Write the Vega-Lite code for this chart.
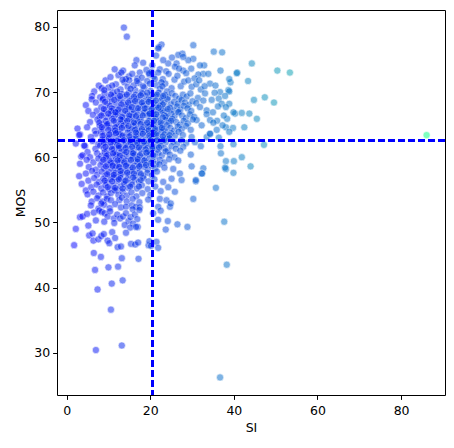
{
  "$schema": "https://vega.github.io/schema/vega-lite/v6.json",
  "width": 388,
  "height": 385,
  "autosize": {"type": "none"},
  "padding": {"left": 57, "top": 10, "right": 9, "bottom": 53},
  "background": "white",
  "config": {
    "view": {"stroke": "black", "strokeWidth": 1},
    "axis": {
      "grid": false, "domain": false, "tickColor": "black", "tickSize": 4.4, "tickWidth": 1,
      "labelFont": "DejaVu Sans", "labelFontSize": 12.5, "labelColor": "black", "labelPadding": 3,
      "titleFont": "DejaVu Sans", "titleFontSize": 12.5, "titleFontWeight": "normal", "titleColor": "black"
    }
  },
  "datasets": {
    "pts": [
      {"SI":13.7,"MOS":79.9},{"SI":14.4,"MOS":78.5},{"SI":13.5,"MOS":73.3},{"SI":16.7,"MOS":74.9},{"SI":16.3,"MOS":74.1},{"SI":17.5,"MOS":73.0},{"SI":14.9,"MOS":72.4},{"SI":16.9,"MOS":72.1},
      {"SI":22.7,"MOS":77.3},{"SI":22.1,"MOS":76.9},{"SI":21.9,"MOS":76.7},{"SI":30.3,"MOS":77.2},{"SI":35.2,"MOS":76.2},{"SI":37.2,"MOS":76.1},{"SI":44.3,"MOS":74.4},{"SI":50.4,"MOS":73.3},{"SI":53.4,"MOS":73.0},{"SI":40.8,"MOS":73.0},{"SI":36.8,"MOS":73.3},{"SI":32.9,"MOS":74.1},{"SI":31.9,"MOS":74.1},{"SI":30.3,"MOS":75.1},{"SI":29.1,"MOS":74.9},{"SI":27.7,"MOS":75.9},{"SI":26.7,"MOS":75.7},{"SI":27.9,"MOS":75.4},{"SI":26.3,"MOS":74.4},{"SI":25.9,"MOS":73.9},{"SI":24.3,"MOS":74.4},{"SI":23.1,"MOS":74.9},{"SI":22.3,"MOS":73.5},{"SI":27.9,"MOS":73.3},{"SI":32.7,"MOS":72.8},{"SI":31.5,"MOS":72.7},{"SI":33.9,"MOS":72.8},{"SI":20.5,"MOS":74.1},{"SI":19.1,"MOS":73.4},{"SI":21.4,"MOS":75.6},{"SI":25.2,"MOS":75.3},{"SI":23.8,"MOS":73.2},{"SI":29.8,"MOS":73.6},{"SI":18.3,"MOS":74.5},{"SI":19.8,"MOS":72.7},
      {"SI":7.7,"MOS":71.0},{"SI":6.6,"MOS":70.1},{"SI":8.4,"MOS":70.6},{"SI":9.3,"MOS":71.8},{"SI":10.5,"MOS":72.3},{"SI":11.0,"MOS":70.0},{"SI":11.8,"MOS":71.2},{"SI":12.4,"MOS":72.6},{"SI":12.9,"MOS":70.4},{"SI":13.8,"MOS":71.5},{"SI":14.6,"MOS":70.8},{"SI":15.0,"MOS":71.8},{"SI":15.7,"MOS":72.8},{"SI":16.4,"MOS":70.3},{"SI":17.2,"MOS":71.4},{"SI":18.0,"MOS":72.2},{"SI":18.6,"MOS":70.7},{"SI":19.3,"MOS":71.7},{"SI":20.1,"MOS":70.2},{"SI":20.8,"MOS":72.4},{"SI":21.5,"MOS":71.1},{"SI":22.3,"MOS":70.5},{"SI":23.0,"MOS":72.0},{"SI":23.6,"MOS":71.3},{"SI":24.4,"MOS":72.8},{"SI":25.1,"MOS":70.6},{"SI":25.8,"MOS":71.9},{"SI":26.5,"MOS":72.5},{"SI":27.3,"MOS":70.9},{"SI":28.1,"MOS":71.6},{"SI":29.1,"MOS":71.8},{"SI":29.9,"MOS":70.8},{"SI":30.6,"MOS":72.1},{"SI":32.1,"MOS":70.4},{"SI":34.3,"MOS":71.3},{"SI":39.2,"MOS":71.5},{"SI":43.4,"MOS":71.7},{"SI":38.9,"MOS":72.0},{"SI":36.7,"MOS":70.0},{"SI":38.7,"MOS":70.3},{"SI":13.1,"MOS":73.0},{"SI":11.5,"MOS":73.5},{"SI":20.3,"MOS":73.1},{"SI":17.9,"MOS":70.0},{"SI":24.0,"MOS":70.1},{"SI":21.9,"MOS":73.0},{"SI":26.9,"MOS":73.6},{"SI":14.2,"MOS":72.0},{"SI":22.7,"MOS":71.5},{"SI":19.7,"MOS":72.9},{"SI":16.0,"MOS":71.0},{"SI":10.0,"MOS":70.7},{"SI":28.6,"MOS":72.9},{"SI":31.0,"MOS":71.2},{"SI":33.0,"MOS":70.9},{"SI":35.6,"MOS":71.0},{"SI":31.7,"MOS":71.8},
      {"SI":6.1,"MOS":69.4},{"SI":8.0,"MOS":69.2},{"SI":10.2,"MOS":69.2},{"SI":9.1,"MOS":69.8},{"SI":11.4,"MOS":69.5},{"SI":12.3,"MOS":69.1},{"SI":13.2,"MOS":69.7},{"SI":14.0,"MOS":69.3},{"SI":14.9,"MOS":69.9},{"SI":15.6,"MOS":69.0},{"SI":16.5,"MOS":69.6},{"SI":17.3,"MOS":69.2},{"SI":18.1,"MOS":69.8},{"SI":18.9,"MOS":69.4},{"SI":19.6,"MOS":69.0},{"SI":20.4,"MOS":69.7},{"SI":21.2,"MOS":69.3},{"SI":22.0,"MOS":69.9},{"SI":22.8,"MOS":69.1},{"SI":23.5,"MOS":69.6},{"SI":24.3,"MOS":69.2},{"SI":25.2,"MOS":69.8},{"SI":26.0,"MOS":69.4},{"SI":26.9,"MOS":69.0},{"SI":27.8,"MOS":69.6},{"SI":28.7,"MOS":69.3},{"SI":29.6,"MOS":69.8},{"SI":31.4,"MOS":69.1},{"SI":33.1,"MOS":69.8},{"SI":36.4,"MOS":69.0},{"SI":38.9,"MOS":70.1},
      {"SI":4.6,"MOS":68.0},{"SI":6.0,"MOS":68.9},{"SI":7.0,"MOS":68.4},{"SI":8.6,"MOS":68.8},{"SI":9.7,"MOS":68.2},{"SI":10.8,"MOS":68.6},{"SI":11.9,"MOS":68.1},{"SI":12.7,"MOS":68.9},{"SI":13.5,"MOS":68.4},{"SI":14.3,"MOS":68.0},{"SI":15.1,"MOS":68.7},{"SI":15.9,"MOS":68.3},{"SI":16.8,"MOS":68.9},{"SI":17.6,"MOS":68.1},{"SI":18.4,"MOS":68.6},{"SI":19.2,"MOS":68.2},{"SI":20.0,"MOS":68.8},{"SI":20.9,"MOS":68.4},{"SI":21.7,"MOS":68.0},{"SI":22.5,"MOS":68.7},{"SI":23.3,"MOS":68.3},{"SI":24.1,"MOS":68.9},{"SI":24.9,"MOS":68.1},{"SI":25.7,"MOS":68.5},{"SI":26.6,"MOS":68.2},{"SI":27.5,"MOS":68.8},{"SI":28.3,"MOS":68.4},{"SI":29.2,"MOS":68.0},{"SI":30.1,"MOS":68.6},{"SI":31.0,"MOS":68.3},{"SI":32.7,"MOS":68.7},{"SI":34.7,"MOS":68.8},{"SI":37.1,"MOS":68.2},{"SI":38.9,"MOS":68.2},{"SI":44.8,"MOS":68.8},{"SI":49.6,"MOS":68.4},{"SI":47.4,"MOS":69.2},
      {"SI":5.2,"MOS":67.1},{"SI":7.2,"MOS":67.1},{"SI":8.3,"MOS":67.7},{"SI":9.4,"MOS":67.3},{"SI":10.3,"MOS":67.9},{"SI":11.2,"MOS":67.4},{"SI":12.0,"MOS":67.0},{"SI":12.8,"MOS":67.6},{"SI":13.6,"MOS":67.2},{"SI":14.4,"MOS":67.8},{"SI":15.2,"MOS":67.3},{"SI":16.0,"MOS":67.0},{"SI":16.7,"MOS":67.6},{"SI":17.5,"MOS":67.2},{"SI":18.3,"MOS":67.9},{"SI":19.1,"MOS":67.5},{"SI":19.9,"MOS":67.1},{"SI":20.7,"MOS":67.7},{"SI":21.5,"MOS":67.3},{"SI":22.3,"MOS":67.9},{"SI":23.1,"MOS":67.4},{"SI":23.9,"MOS":67.0},{"SI":24.7,"MOS":67.6},{"SI":25.5,"MOS":67.2},{"SI":26.4,"MOS":67.8},{"SI":27.2,"MOS":67.3},{"SI":28.0,"MOS":67.9},{"SI":28.9,"MOS":67.5},{"SI":29.8,"MOS":67.1},{"SI":31.9,"MOS":67.7},{"SI":33.5,"MOS":67.2},{"SI":38.1,"MOS":67.7},{"SI":10.8,"MOS":67.5},{"SI":14.9,"MOS":67.6},{"SI":18.8,"MOS":67.0},{"SI":22.9,"MOS":67.2},{"SI":26.9,"MOS":67.0},
      {"SI":6.3,"MOS":66.5},{"SI":7.9,"MOS":66.2},{"SI":8.8,"MOS":66.8},{"SI":9.6,"MOS":66.1},{"SI":10.5,"MOS":66.6},{"SI":11.3,"MOS":66.2},{"SI":12.1,"MOS":66.9},{"SI":12.9,"MOS":66.4},{"SI":13.7,"MOS":66.0},{"SI":14.5,"MOS":66.7},{"SI":15.3,"MOS":66.3},{"SI":16.1,"MOS":66.9},{"SI":16.9,"MOS":66.5},{"SI":17.7,"MOS":66.1},{"SI":18.5,"MOS":66.8},{"SI":19.3,"MOS":66.4},{"SI":20.1,"MOS":66.0},{"SI":20.9,"MOS":66.6},{"SI":21.7,"MOS":66.2},{"SI":22.5,"MOS":66.9},{"SI":23.3,"MOS":66.5},{"SI":24.1,"MOS":66.1},{"SI":25.0,"MOS":66.7},{"SI":25.8,"MOS":66.3},{"SI":26.7,"MOS":66.9},{"SI":27.6,"MOS":66.4},{"SI":28.5,"MOS":66.0},{"SI":29.5,"MOS":66.6},{"SI":30.5,"MOS":66.2},{"SI":31.1,"MOS":65.7},{"SI":33.5,"MOS":66.6},{"SI":40.3,"MOS":66.7},{"SI":43.7,"MOS":66.7},{"SI":41.9,"MOS":66.8},{"SI":39.9,"MOS":66.9},{"SI":45.5,"MOS":65.9},{"SI":38.4,"MOS":65.9},{"SI":36.0,"MOS":65.6},{"SI":34.3,"MOS":65.7},{"SI":11.7,"MOS":66.5},{"SI":15.7,"MOS":66.2},{"SI":19.7,"MOS":66.6},{"SI":23.7,"MOS":66.3},
      {"SI":5.6,"MOS":65.4},{"SI":7.4,"MOS":65.8},{"SI":8.5,"MOS":65.1},{"SI":9.3,"MOS":65.6},{"SI":10.1,"MOS":65.2},{"SI":10.9,"MOS":65.9},{"SI":11.7,"MOS":65.4},{"SI":12.5,"MOS":65.0},{"SI":13.3,"MOS":65.7},{"SI":14.1,"MOS":65.3},{"SI":14.9,"MOS":65.9},{"SI":15.7,"MOS":65.5},{"SI":16.5,"MOS":65.1},{"SI":17.3,"MOS":65.8},{"SI":18.1,"MOS":65.4},{"SI":18.9,"MOS":65.0},{"SI":19.7,"MOS":65.6},{"SI":20.5,"MOS":65.2},{"SI":21.3,"MOS":65.9},{"SI":22.1,"MOS":65.5},{"SI":22.9,"MOS":65.1},{"SI":23.7,"MOS":65.7},{"SI":24.5,"MOS":65.3},{"SI":25.3,"MOS":65.9},{"SI":26.2,"MOS":65.4},{"SI":27.1,"MOS":65.0},{"SI":28.0,"MOS":65.6},{"SI":29.0,"MOS":65.2},{"SI":30.2,"MOS":65.8},{"SI":32.3,"MOS":64.9},{"SI":35.1,"MOS":65.3},{"SI":13.0,"MOS":65.2},{"SI":17.0,"MOS":65.5},{"SI":21.0,"MOS":65.0},{"SI":25.0,"MOS":65.6},
      {"SI":2.6,"MOS":64.4},{"SI":4.9,"MOS":64.6},{"SI":6.8,"MOS":64.1},{"SI":7.9,"MOS":64.8},{"SI":8.8,"MOS":64.3},{"SI":9.6,"MOS":64.9},{"SI":10.4,"MOS":64.5},{"SI":11.2,"MOS":64.1},{"SI":12.0,"MOS":64.7},{"SI":12.8,"MOS":64.3},{"SI":13.6,"MOS":64.9},{"SI":14.4,"MOS":64.5},{"SI":15.2,"MOS":64.1},{"SI":16.0,"MOS":64.8},{"SI":16.8,"MOS":64.4},{"SI":17.6,"MOS":64.0},{"SI":18.4,"MOS":64.6},{"SI":19.2,"MOS":64.2},{"SI":20.0,"MOS":64.9},{"SI":20.8,"MOS":64.5},{"SI":21.6,"MOS":64.1},{"SI":22.4,"MOS":64.7},{"SI":23.2,"MOS":64.3},{"SI":24.0,"MOS":64.9},{"SI":24.8,"MOS":64.5},{"SI":25.7,"MOS":64.1},{"SI":26.6,"MOS":64.7},{"SI":27.5,"MOS":64.3},{"SI":28.6,"MOS":64.8},{"SI":29.7,"MOS":64.2},{"SI":35.9,"MOS":64.2},{"SI":38.1,"MOS":64.6},{"SI":42.5,"MOS":64.6},{"SI":39.8,"MOS":64.5},{"SI":38.9,"MOS":63.9},{"SI":11.6,"MOS":64.6},{"SI":15.6,"MOS":64.3},{"SI":19.6,"MOS":64.7},{"SI":23.6,"MOS":64.0},
      {"SI":3.2,"MOS":63.5},{"SI":3.0,"MOS":63.4},{"SI":7.0,"MOS":63.6},{"SI":5.8,"MOS":63.1},{"SI":8.2,"MOS":63.9},{"SI":9.0,"MOS":63.4},{"SI":9.8,"MOS":63.0},{"SI":10.6,"MOS":63.7},{"SI":11.4,"MOS":63.3},{"SI":12.2,"MOS":63.9},{"SI":13.0,"MOS":63.5},{"SI":13.8,"MOS":63.1},{"SI":14.6,"MOS":63.8},{"SI":15.4,"MOS":63.4},{"SI":16.2,"MOS":63.0},{"SI":17.0,"MOS":63.6},{"SI":17.8,"MOS":63.2},{"SI":18.6,"MOS":63.9},{"SI":19.4,"MOS":63.5},{"SI":20.2,"MOS":63.1},{"SI":21.0,"MOS":63.7},{"SI":21.8,"MOS":63.3},{"SI":22.6,"MOS":63.9},{"SI":23.4,"MOS":63.5},{"SI":24.2,"MOS":63.1},{"SI":25.0,"MOS":63.7},{"SI":25.9,"MOS":63.3},{"SI":26.8,"MOS":63.9},{"SI":27.8,"MOS":63.4},{"SI":29.9,"MOS":63.1},{"SI":33.5,"MOS":63.1},{"SI":34.3,"MOS":63.6},{"SI":12.6,"MOS":63.6},{"SI":16.6,"MOS":63.3},{"SI":20.6,"MOS":63.8},{"SI":24.6,"MOS":63.4},
      {"SI":2.2,"MOS":62.1},{"SI":6.2,"MOS":62.5},{"SI":7.6,"MOS":62.0},{"SI":8.5,"MOS":62.7},{"SI":9.3,"MOS":62.3},{"SI":10.1,"MOS":62.9},{"SI":10.9,"MOS":62.5},{"SI":11.7,"MOS":62.1},{"SI":12.5,"MOS":62.8},{"SI":13.3,"MOS":62.4},{"SI":14.1,"MOS":62.0},{"SI":14.9,"MOS":62.6},{"SI":15.7,"MOS":62.2},{"SI":16.5,"MOS":62.9},{"SI":17.3,"MOS":62.5},{"SI":18.1,"MOS":62.1},{"SI":18.9,"MOS":62.7},{"SI":19.7,"MOS":62.3},{"SI":20.5,"MOS":62.9},{"SI":21.3,"MOS":62.5},{"SI":22.1,"MOS":62.1},{"SI":22.9,"MOS":62.7},{"SI":23.7,"MOS":62.3},{"SI":24.6,"MOS":62.9},{"SI":25.5,"MOS":62.4},{"SI":26.4,"MOS":62.0},{"SI":27.4,"MOS":62.6},{"SI":28.6,"MOS":62.2},{"SI":30.7,"MOS":62.3},{"SI":39.9,"MOS":62.0},{"SI":47.2,"MOS":61.9},{"SI":36.8,"MOS":61.7},{"SI":32.1,"MOS":61.7},{"SI":27.9,"MOS":61.6},{"SI":11.3,"MOS":62.4},{"SI":15.3,"MOS":62.6},{"SI":19.3,"MOS":62.0},{"SI":23.3,"MOS":62.6},
      {"SI":4.4,"MOS":61.7},{"SI":4.2,"MOS":61.8},{"SI":5.0,"MOS":60.8},{"SI":6.9,"MOS":61.3},{"SI":8.0,"MOS":61.8},{"SI":8.9,"MOS":61.4},{"SI":9.7,"MOS":61.0},{"SI":10.5,"MOS":61.6},{"SI":11.3,"MOS":61.2},{"SI":12.1,"MOS":61.9},{"SI":12.9,"MOS":61.5},{"SI":13.7,"MOS":61.1},{"SI":14.5,"MOS":61.7},{"SI":15.3,"MOS":61.3},{"SI":16.1,"MOS":61.0},{"SI":16.9,"MOS":61.6},{"SI":17.7,"MOS":61.2},{"SI":18.5,"MOS":61.8},{"SI":19.3,"MOS":61.4},{"SI":20.1,"MOS":61.0},{"SI":20.9,"MOS":61.6},{"SI":21.7,"MOS":61.2},{"SI":22.5,"MOS":61.8},{"SI":23.3,"MOS":61.4},{"SI":24.2,"MOS":61.0},{"SI":25.1,"MOS":61.7},{"SI":26.1,"MOS":61.3},{"SI":27.2,"MOS":61.0},{"SI":36.9,"MOS":60.6},{"SI":12.5,"MOS":61.4},{"SI":16.5,"MOS":61.9},{"SI":20.5,"MOS":61.3},
      {"SI":3.5,"MOS":60.1},{"SI":3.8,"MOS":60.3},{"SI":5.6,"MOS":60.0},{"SI":7.3,"MOS":60.6},{"SI":8.3,"MOS":60.2},{"SI":9.1,"MOS":60.8},{"SI":9.9,"MOS":60.4},{"SI":10.7,"MOS":60.0},{"SI":11.5,"MOS":60.7},{"SI":12.3,"MOS":60.3},{"SI":13.1,"MOS":60.9},{"SI":13.9,"MOS":60.5},{"SI":14.7,"MOS":60.1},{"SI":15.5,"MOS":60.8},{"SI":16.3,"MOS":60.4},{"SI":17.1,"MOS":60.0},{"SI":17.9,"MOS":60.6},{"SI":18.7,"MOS":60.2},{"SI":19.5,"MOS":60.9},{"SI":20.3,"MOS":60.5},{"SI":21.1,"MOS":60.1},{"SI":21.9,"MOS":60.7},{"SI":22.8,"MOS":60.3},{"SI":23.7,"MOS":60.9},{"SI":24.7,"MOS":60.4},{"SI":25.8,"MOS":60.0},{"SI":29.7,"MOS":60.4},{"SI":41.9,"MOS":60.0},{"SI":11.9,"MOS":60.4},{"SI":15.9,"MOS":60.2},{"SI":19.9,"MOS":60.6},
      {"SI":3.2,"MOS":59.0},{"SI":4.8,"MOS":59.6},{"SI":6.4,"MOS":59.2},{"SI":7.6,"MOS":59.8},{"SI":8.6,"MOS":59.3},{"SI":9.4,"MOS":59.9},{"SI":10.2,"MOS":59.5},{"SI":11.0,"MOS":59.1},{"SI":11.8,"MOS":59.7},{"SI":12.6,"MOS":59.3},{"SI":13.4,"MOS":59.9},{"SI":14.2,"MOS":59.5},{"SI":15.0,"MOS":59.1},{"SI":15.8,"MOS":59.8},{"SI":16.6,"MOS":59.4},{"SI":17.4,"MOS":59.0},{"SI":18.2,"MOS":59.6},{"SI":19.0,"MOS":59.2},{"SI":19.8,"MOS":59.8},{"SI":20.6,"MOS":59.4},{"SI":21.4,"MOS":59.0},{"SI":22.3,"MOS":59.6},{"SI":23.3,"MOS":59.2},{"SI":24.5,"MOS":59.7},{"SI":26.7,"MOS":59.5},{"SI":40.0,"MOS":59.4},{"SI":38.1,"MOS":59.4},{"SI":13.0,"MOS":59.6},{"SI":17.0,"MOS":59.3},
      {"SI":5.3,"MOS":58.5},{"SI":7.0,"MOS":58.1},{"SI":8.1,"MOS":58.8},{"SI":9.0,"MOS":58.3},{"SI":9.8,"MOS":58.9},{"SI":10.6,"MOS":58.4},{"SI":11.4,"MOS":58.0},{"SI":12.2,"MOS":58.7},{"SI":13.0,"MOS":58.3},{"SI":13.8,"MOS":58.9},{"SI":14.6,"MOS":58.5},{"SI":15.4,"MOS":58.1},{"SI":16.2,"MOS":58.7},{"SI":17.0,"MOS":58.3},{"SI":17.8,"MOS":58.9},{"SI":18.6,"MOS":58.5},{"SI":19.4,"MOS":58.1},{"SI":20.3,"MOS":58.7},{"SI":21.2,"MOS":58.3},{"SI":22.2,"MOS":58.9},{"SI":23.4,"MOS":58.4},{"SI":25.5,"MOS":58.2},{"SI":29.9,"MOS":58.6},{"SI":32.7,"MOS":58.3},{"SI":38.1,"MOS":58.2},{"SI":44.0,"MOS":58.6},{"SI":11.8,"MOS":58.6},
      {"SI":3.0,"MOS":57.1},{"SI":4.6,"MOS":57.5},{"SI":6.1,"MOS":57.9},{"SI":7.3,"MOS":57.3},{"SI":8.4,"MOS":57.8},{"SI":9.3,"MOS":57.2},{"SI":10.1,"MOS":57.7},{"SI":10.9,"MOS":57.1},{"SI":11.7,"MOS":57.6},{"SI":12.5,"MOS":57.0},{"SI":13.3,"MOS":57.5},{"SI":14.1,"MOS":57.9},{"SI":14.9,"MOS":57.3},{"SI":15.7,"MOS":57.8},{"SI":16.5,"MOS":57.2},{"SI":17.4,"MOS":57.7},{"SI":18.3,"MOS":57.1},{"SI":19.3,"MOS":57.6},{"SI":20.4,"MOS":57.2},{"SI":21.6,"MOS":57.8},{"SI":27.1,"MOS":57.5},{"SI":32.3,"MOS":57.5},{"SI":39.9,"MOS":57.6},{"SI":12.9,"MOS":57.4},
      {"SI":5.2,"MOS":56.4},{"SI":6.6,"MOS":56.8},{"SI":7.8,"MOS":56.2},{"SI":8.8,"MOS":56.7},{"SI":9.7,"MOS":56.1},{"SI":10.5,"MOS":56.6},{"SI":11.3,"MOS":56.9},{"SI":12.1,"MOS":56.3},{"SI":12.9,"MOS":56.8},{"SI":13.7,"MOS":56.2},{"SI":14.5,"MOS":56.7},{"SI":15.4,"MOS":56.1},{"SI":16.3,"MOS":56.6},{"SI":17.3,"MOS":56.2},{"SI":18.4,"MOS":56.8},{"SI":19.6,"MOS":56.3},{"SI":21.0,"MOS":56.6},{"SI":23.1,"MOS":56.2},{"SI":25.1,"MOS":56.7},{"SI":27.5,"MOS":56.5},{"SI":30.9,"MOS":56.3},
      {"SI":3.6,"MOS":55.9},{"SI":4.6,"MOS":54.9},{"SI":5.9,"MOS":55.4},{"SI":7.2,"MOS":55.8},{"SI":8.3,"MOS":55.2},{"SI":9.3,"MOS":55.7},{"SI":10.2,"MOS":55.1},{"SI":11.1,"MOS":55.6},{"SI":12.0,"MOS":55.0},{"SI":12.9,"MOS":55.5},{"SI":13.8,"MOS":55.9},{"SI":14.7,"MOS":55.3},{"SI":15.7,"MOS":55.8},{"SI":16.8,"MOS":55.2},{"SI":18.0,"MOS":55.7},{"SI":19.4,"MOS":55.1},{"SI":21.2,"MOS":55.5},{"SI":24.3,"MOS":55.4},{"SI":25.9,"MOS":54.7},{"SI":35.7,"MOS":55.3},
      {"SI":5.0,"MOS":54.3},{"SI":6.4,"MOS":54.7},{"SI":7.6,"MOS":54.1},{"SI":8.7,"MOS":54.6},{"SI":9.7,"MOS":54.0},{"SI":10.6,"MOS":54.5},{"SI":11.5,"MOS":54.9},{"SI":12.4,"MOS":54.2},{"SI":13.4,"MOS":54.7},{"SI":14.4,"MOS":54.1},{"SI":15.5,"MOS":54.6},{"SI":16.7,"MOS":54.0},{"SI":18.1,"MOS":54.5},{"SI":20.0,"MOS":54.2},{"SI":22.5,"MOS":54.8},
      {"SI":6.0,"MOS":53.2},{"SI":7.3,"MOS":53.7},{"SI":8.6,"MOS":53.2},{"SI":9.6,"MOS":53.6},{"SI":10.6,"MOS":53.4},{"SI":12.6,"MOS":53.4},{"SI":13.2,"MOS":53.8},{"SI":14.4,"MOS":53.2},{"SI":15.8,"MOS":53.6},{"SI":17.4,"MOS":53.1},{"SI":19.5,"MOS":53.5},{"SI":22.3,"MOS":53.6},{"SI":23.9,"MOS":53.4},{"SI":30.3,"MOS":53.6},
      {"SI":5.8,"MOS":52.6},{"SI":7.6,"MOS":52.1},{"SI":9.0,"MOS":52.7},{"SI":10.3,"MOS":52.2},{"SI":11.6,"MOS":52.8},{"SI":13.0,"MOS":52.3},{"SI":14.2,"MOS":52.4},{"SI":15.6,"MOS":52.6},{"SI":16.6,"MOS":52.4},{"SI":17.5,"MOS":52.3},{"SI":21.9,"MOS":52.4},{"SI":24.7,"MOS":52.4},{"SI":24.9,"MOS":52.9},{"SI":8.3,"MOS":52.9},
      {"SI":3.2,"MOS":50.8},{"SI":3.8,"MOS":50.9},{"SI":5.2,"MOS":49.5},{"SI":4.9,"MOS":51.3},{"SI":6.5,"MOS":51.5},{"SI":7.0,"MOS":50.3},{"SI":7.8,"MOS":51.8},{"SI":8.4,"MOS":51.6},{"SI":9.1,"MOS":51.4},{"SI":9.8,"MOS":50.9},{"SI":10.4,"MOS":51.7},{"SI":11.3,"MOS":50.6},{"SI":12.1,"MOS":51.2},{"SI":12.8,"MOS":50.6},{"SI":13.5,"MOS":50.9},{"SI":14.2,"MOS":51.4},{"SI":14.8,"MOS":50.2},{"SI":15.3,"MOS":50.8},{"SI":15.8,"MOS":52.0},{"SI":16.3,"MOS":51.2},{"SI":16.9,"MOS":50.5},{"SI":17.4,"MOS":51.9},{"SI":15.9,"MOS":49.8},{"SI":17.0,"MOS":49.3},{"SI":13.9,"MOS":49.6},{"SI":11.4,"MOS":49.9},{"SI":9.0,"MOS":50.1},{"SI":21.9,"MOS":50.4},{"SI":20.7,"MOS":51.4},{"SI":22.5,"MOS":51.8},{"SI":26.5,"MOS":49.7},{"SI":28.9,"MOS":49.3},{"SI":23.7,"MOS":48.9},{"SI":24.2,"MOS":50.2},{"SI":37.7,"MOS":50.1},
      {"SI":1.8,"MOS":46.5},{"SI":2.2,"MOS":49.0},{"SI":5.4,"MOS":48.0},{"SI":6.2,"MOS":48.3},{"SI":6.4,"MOS":47.2},{"SI":7.6,"MOS":47.4},{"SI":8.3,"MOS":47.9},{"SI":8.9,"MOS":48.2},{"SI":9.8,"MOS":47.2},{"SI":10.2,"MOS":46.8},{"SI":10.9,"MOS":48.5},{"SI":11.6,"MOS":47.6},{"SI":12.2,"MOS":46.2},{"SI":13.0,"MOS":46.3},{"SI":15.4,"MOS":46.7},{"SI":16.4,"MOS":46.6},{"SI":17.1,"MOS":46.9},{"SI":15.2,"MOS":49.2},{"SI":16.6,"MOS":49.3},{"SI":14.2,"MOS":48.4},{"SI":19.6,"MOS":46.5},{"SI":19.8,"MOS":47.1},{"SI":20.2,"MOS":46.4},{"SI":21.5,"MOS":47.0},{"SI":21.9,"MOS":46.1},
      {"SI":6.5,"MOS":45.3},{"SI":6.8,"MOS":42.7},{"SI":8.2,"MOS":44.7},{"SI":7.4,"MOS":39.7},{"SI":10.6,"MOS":36.6},{"SI":7.0,"MOS":30.4},{"SI":13.2,"MOS":31.1},{"SI":10.8,"MOS":40.6},{"SI":13.4,"MOS":41.1},{"SI":10.0,"MOS":43.1},{"SI":12.3,"MOS":43.2},{"SI":13.2,"MOS":44.5},{"SI":17.2,"MOS":44.4},{"SI":38.3,"MOS":43.5},{"SI":36.7,"MOS":26.2},{"SI":86.1,"MOS":63.4},
      {"SI":34.3,"MOS":63.6},{"SI":36.4,"MOS":63.0},{"SI":37.3,"MOS":64.9},{"SI":35.0,"MOS":66.9},{"SI":37.6,"MOS":66.4},{"SI":36.2,"MOS":67.8},{"SI":35.4,"MOS":69.9},{"SI":37.9,"MOS":69.4},{"SI":40.7,"MOS":72.9},{"SI":32.4,"MOS":57.5},{"SI":30.9,"MOS":56.5},{"SI":37.9,"MOS":58.4},
      {"SI":9.0,"MOS":70.3},{"SI":10.9,"MOS":71.0},{"SI":12.1,"MOS":70.1},{"SI":13.4,"MOS":71.9},{"SI":15.3,"MOS":70.5},{"SI":16.8,"MOS":71.7},{"SI":18.3,"MOS":70.9},{"SI":19.9,"MOS":71.3},{"SI":21.1,"MOS":72.0},{"SI":22.9,"MOS":70.9},
      {"SI":8.7,"MOS":69.0},{"SI":10.6,"MOS":69.6},{"SI":12.8,"MOS":69.4},{"SI":14.4,"MOS":69.6},{"SI":16.1,"MOS":69.3},{"SI":17.7,"MOS":69.5},{"SI":19.3,"MOS":69.9},{"SI":21.6,"MOS":69.6},{"SI":23.1,"MOS":69.4},
      {"SI":9.2,"MOS":68.5},{"SI":11.4,"MOS":68.8},{"SI":13.1,"MOS":68.1},{"SI":14.7,"MOS":68.4},{"SI":16.4,"MOS":68.6},{"SI":18.0,"MOS":68.4},{"SI":19.6,"MOS":68.5},{"SI":21.3,"MOS":68.7},{"SI":23.0,"MOS":68.1},
      {"SI":8.9,"MOS":67.4},{"SI":10.7,"MOS":67.1},{"SI":12.4,"MOS":67.3},{"SI":14.0,"MOS":67.1},{"SI":15.6,"MOS":67.7},{"SI":17.1,"MOS":67.5},{"SI":18.7,"MOS":67.5},{"SI":20.3,"MOS":67.4},{"SI":22.0,"MOS":67.6},{"SI":24.2,"MOS":67.4},
      {"SI":8.3,"MOS":66.4},{"SI":10.0,"MOS":66.7},{"SI":11.7,"MOS":66.9},{"SI":13.3,"MOS":66.2},{"SI":15.0,"MOS":66.4},{"SI":16.6,"MOS":66.3},{"SI":18.2,"MOS":66.4},{"SI":19.9,"MOS":66.7},{"SI":21.4,"MOS":66.6},{"SI":23.0,"MOS":66.1},
      {"SI":7.8,"MOS":65.3},{"SI":9.7,"MOS":65.1},{"SI":11.3,"MOS":65.6},{"SI":12.9,"MOS":65.8},{"SI":14.5,"MOS":65.6},{"SI":16.1,"MOS":65.3},{"SI":17.7,"MOS":65.1},{"SI":19.3,"MOS":65.3},{"SI":20.9,"MOS":65.6},{"SI":22.5,"MOS":65.3},
      {"SI":8.4,"MOS":64.6},{"SI":10.0,"MOS":64.2},{"SI":11.6,"MOS":64.1},{"SI":13.2,"MOS":64.5},{"SI":14.8,"MOS":64.8},{"SI":16.4,"MOS":64.2},{"SI":18.0,"MOS":64.3},{"SI":19.6,"MOS":64.1},{"SI":21.2,"MOS":64.3},{"SI":22.8,"MOS":64.5},
      {"SI":8.6,"MOS":63.3},{"SI":10.2,"MOS":63.5},{"SI":11.8,"MOS":63.7},{"SI":13.4,"MOS":63.3},{"SI":15.0,"MOS":63.2},{"SI":16.6,"MOS":63.8},{"SI":18.2,"MOS":63.6},{"SI":19.8,"MOS":63.3},{"SI":21.4,"MOS":63.5},{"SI":23.0,"MOS":63.2},
      {"SI":8.9,"MOS":62.2},{"SI":10.5,"MOS":62.2},{"SI":12.1,"MOS":62.5},{"SI":13.7,"MOS":62.6},{"SI":15.3,"MOS":62.3},{"SI":16.9,"MOS":62.2},{"SI":18.5,"MOS":62.4},{"SI":20.1,"MOS":62.6},{"SI":21.7,"MOS":62.6},
      {"SI":9.3,"MOS":61.6},{"SI":10.9,"MOS":61.3},{"SI":12.5,"MOS":61.7},{"SI":14.1,"MOS":61.4},{"SI":15.7,"MOS":61.6},{"SI":17.3,"MOS":61.5},{"SI":18.9,"MOS":61.2},{"SI":20.5,"MOS":61.6},{"SI":22.1,"MOS":61.5},
      {"SI":9.5,"MOS":60.2},{"SI":11.1,"MOS":60.6},{"SI":12.7,"MOS":60.2},{"SI":14.3,"MOS":60.8},{"SI":15.9,"MOS":60.6},{"SI":17.5,"MOS":60.3},{"SI":19.1,"MOS":60.7},{"SI":20.7,"MOS":60.3},
      {"SI":8.8,"MOS":59.6},{"SI":10.6,"MOS":59.2},{"SI":12.2,"MOS":59.5},{"SI":13.8,"MOS":59.2},{"SI":15.4,"MOS":59.6},{"SI":17.0,"MOS":59.7},{"SI":18.6,"MOS":59.5},{"SI":20.2,"MOS":59.1},
      {"SI":9.4,"MOS":58.6},{"SI":11.0,"MOS":58.7},{"SI":12.6,"MOS":58.5},{"SI":14.2,"MOS":58.7},{"SI":15.8,"MOS":58.4},{"SI":17.4,"MOS":58.6},{"SI":19.0,"MOS":58.8},
      {"SI":9.7,"MOS":57.4},{"SI":11.3,"MOS":57.3},{"SI":12.9,"MOS":57.9},{"SI":14.5,"MOS":57.6},{"SI":16.1,"MOS":57.5},{"SI":17.8,"MOS":57.4},
      {"SI":9.1,"MOS":56.4},{"SI":10.9,"MOS":56.3},{"SI":12.5,"MOS":56.6},{"SI":14.1,"MOS":56.4},{"SI":15.9,"MOS":56.9},{"SI":17.7,"MOS":56.5},
      {"SI":9.8,"MOS":55.4},{"SI":11.6,"MOS":55.3},{"SI":13.4,"MOS":55.2},{"SI":15.2,"MOS":55.5},{"SI":17.3,"MOS":55.5}
    ]
  },
  "data": {"name": "pts"},
  "layer": [
    {
      "mark": {"type": "point", "shape": "circle", "filled": true, "size": 52, "opacity": 0.5, "stroke": "white", "strokeWidth": 0.6},
      "encoding": {
        "x": {"field": "SI", "type": "quantitative", "title": "SI", "scale": {"domain": [-2.3, 90.5], "nice": false, "zero": false}, "axis": {"values": [0, 20, 40, 60, 80], "labelPadding": 5, "titlePadding": 5}},
        "y": {"field": "MOS", "type": "quantitative", "title": "MOS", "scale": {"domain": [23.5, 82.6], "nice": false, "zero": false}, "axis": {"values": [30, 40, 50, 60, 70, 80], "titlePadding": 6}},
        "color": {"field": "SI", "type": "quantitative", "legend": null, "scale": {"domain": [1.8, 86.1], "range": ["#0000ff", "#00ff80"], "interpolate": "rgb"}}
      }
    },
    {
      "mark": {"type": "rule", "color": "#0000ff", "strokeWidth": 1.9, "strokeDash": [7, 3]},
      "encoding": {"x": {"datum": 20.6, "type": "quantitative"}}
    },
    {
      "mark": {"type": "rule", "color": "#0000ff", "strokeWidth": 1.9, "strokeDash": [7, 3]},
      "encoding": {"y": {"datum": 62.6, "type": "quantitative"}}
    }
  ]
}
